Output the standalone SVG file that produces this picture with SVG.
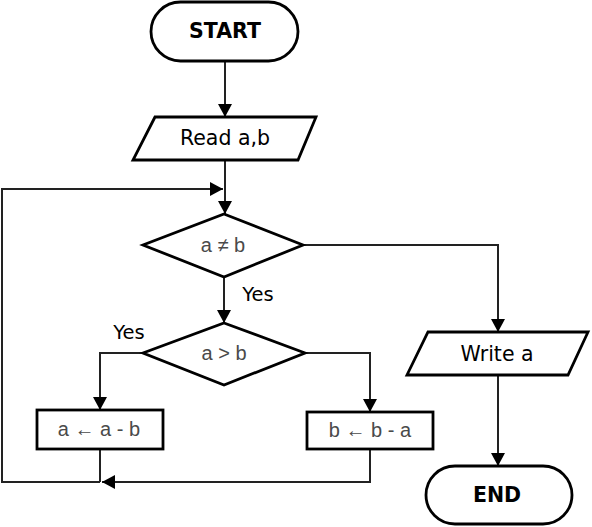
<svg xmlns="http://www.w3.org/2000/svg" width="592" height="527" viewBox="0 0 592 527">
<defs>
<style>
.shape{fill:#fff;stroke:#000;stroke-width:2.8}
.line{fill:none;stroke:#222;stroke-width:2}
.big{font-family:"DejaVu Sans",sans-serif;font-size:20.5px;fill:#000;text-anchor:middle}
.yes{font-family:"DejaVu Sans",sans-serif;font-size:19.5px;fill:#000;text-anchor:middle}
.bold{font-family:"DejaVu Sans",sans-serif;font-size:20.5px;font-weight:bold;fill:#000;text-anchor:middle}
.gray{font-family:"Liberation Sans",Arial,sans-serif;font-size:20px;fill:#4a4a4a;text-anchor:middle}
</style>
<marker id="arr" viewBox="0 0 13 14" refX="13" refY="7" markerWidth="13" markerHeight="14" markerUnits="userSpaceOnUse" orient="auto">
<path d="M0,0 L13,7 L0,14 Z" fill="#000"/>
</marker>
</defs>
<g id="connectors">
<line class="line" x1="225" y1="61" x2="225" y2="117" marker-end="url(#arr)"/>
<line class="line" x1="225" y1="160" x2="225" y2="214" marker-end="url(#arr)"/>
<polyline class="line" points="100,482 2,482 2,189 223,189" marker-end="url(#arr)"/>
<polyline class="line" points="303,245 498,245 498,332" marker-end="url(#arr)"/>
<line class="line" x1="224" y1="277" x2="224" y2="323" marker-end="url(#arr)"/>
<polyline class="line" points="143,353 100,353 100,410" marker-end="url(#arr)"/>
<polyline class="line" points="305,353 370,353 370,412" marker-end="url(#arr)"/>
<line class="line" x1="100" y1="449" x2="100" y2="482"/>
<polyline class="line" points="370,449 370,482 102,482" marker-end="url(#arr)"/>
<line class="line" x1="498" y1="375" x2="498" y2="466" marker-end="url(#arr)"/>
<text class="yes" x="258" y="301">Yes</text>
<text class="yes" x="129" y="339">Yes</text>
</g>
<g id="start">
<rect class="shape" x="151" y="2" width="147" height="59" rx="29.5"/>
<text class="bold" x="225" y="38">START</text>
</g>
<g id="read">
<polygon class="shape" points="155,117 316,117 298,160 133,160"/>
<text class="big" x="225" y="145">Read a,b</text>
</g>
<g id="cond1">
<polygon class="shape" points="224,214 303,245 224,277 143,245"/>
<text class="gray" x="223" y="252">a ≠ b</text>
</g>
<g id="cond2">
<polygon class="shape" points="224,323 305,353 224,385 143,353"/>
<text class="gray" x="224" y="360">a &gt; b</text>
</g>
<g id="box1">
<rect class="shape" x="37" y="410" width="126" height="39"/>
<text class="gray" x="99" y="436">a ← a - b</text>
</g>
<g id="box2">
<rect class="shape" x="307" y="412" width="126" height="37"/>
<text class="gray" x="370" y="437">b ← b - a</text>
</g>
<g id="write">
<polygon class="shape" points="428,332 588,332 568,375 407,375"/>
<text class="big" x="497" y="361">Write a</text>
</g>
<g id="end">
<rect class="shape" x="426" y="466" width="146" height="58" rx="29"/>
<text class="bold" x="497" y="502">END</text>
</g>
</svg>
